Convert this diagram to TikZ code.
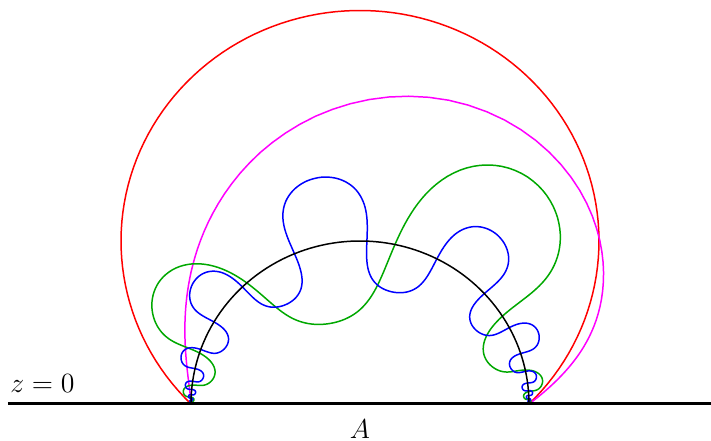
\documentclass[tikz,border=0pt]{standalone}
\definecolor{mag}{RGB}{255,0,255}
\definecolor{grn}{RGB}{0,168,0}
\begin{document}
\begin{tikzpicture}[x=3.38cm,y=3.26cm,
  declare function={
    zx(\s,\u)=sinh(\s)/(cosh(\s)+tanh(\u));
    zy(\s,\u)=(1/cosh(\u))/(cosh(\s)+tanh(\u));
    bs(\t)=0.041+(rad(\t)-0.5*sin(2*\t))/6.98;
    bu(\t)=0.35*sin(\t);
    gs(\t)=0.21+(rad(\t)-0.3*sin(2*\t))/3.08;
    gu(\t)=-0.68*sin(\t);
    mt(\s)=min(0.5077*exp(0.5*\s),3);
    mtau(\s)=1.3*mt(\s)/(1+mt(\s)^8)^0.125;
    msin(\s)=mtau(\s)/sqrt(1+mtau(\s)^2);
    mcos(\s)=1/sqrt(1+mtau(\s)^2);
  },
  curve/.style={line width=0.85pt, line join=round},
  lab/.style={inner sep=0pt, font=\fontsize{14.4}{17}\selectfont}]
\useasboundingbox (-2.1302,-0.2270) rectangle (2.0769,2.4785);
\draw[curve, red] plot[domain=-45:225, samples=120] ({sqrt(2)*cos(\x)},{1+sqrt(2)*sin(\x)});
\draw[curve, mag] plot[domain=-6:6, samples=240] ({sinh(\x)/(cosh(\x)-msin(\x))},{mcos(\x)/(cosh(\x)-msin(\x))});
\draw[curve, grn] plot[domain=-1100:1100, samples=801] ({zx(gs(\x),gu(\x))},{zy(gs(\x),gu(\x))});
\draw[curve, blue] plot[domain=-2400:2400, samples=1601] ({zx(bs(\x),bu(\x))},{zy(bs(\x),bu(\x))});
\draw[curve, black] plot[domain=0:180, samples=90] ({cos(\x)},{sin(\x)});
\draw[line width=1.7pt] (-2.083,0) -- (2.0769,0);
\node[lab, anchor=base west] (zlab) at (-2.071,0.0675) {\scalebox{1.1}{$z=0$}};
\node[lab, anchor=base] (alab) at (0,-0.209) {\scalebox{1.08}{$A$}};
\end{tikzpicture}
\end{document}
